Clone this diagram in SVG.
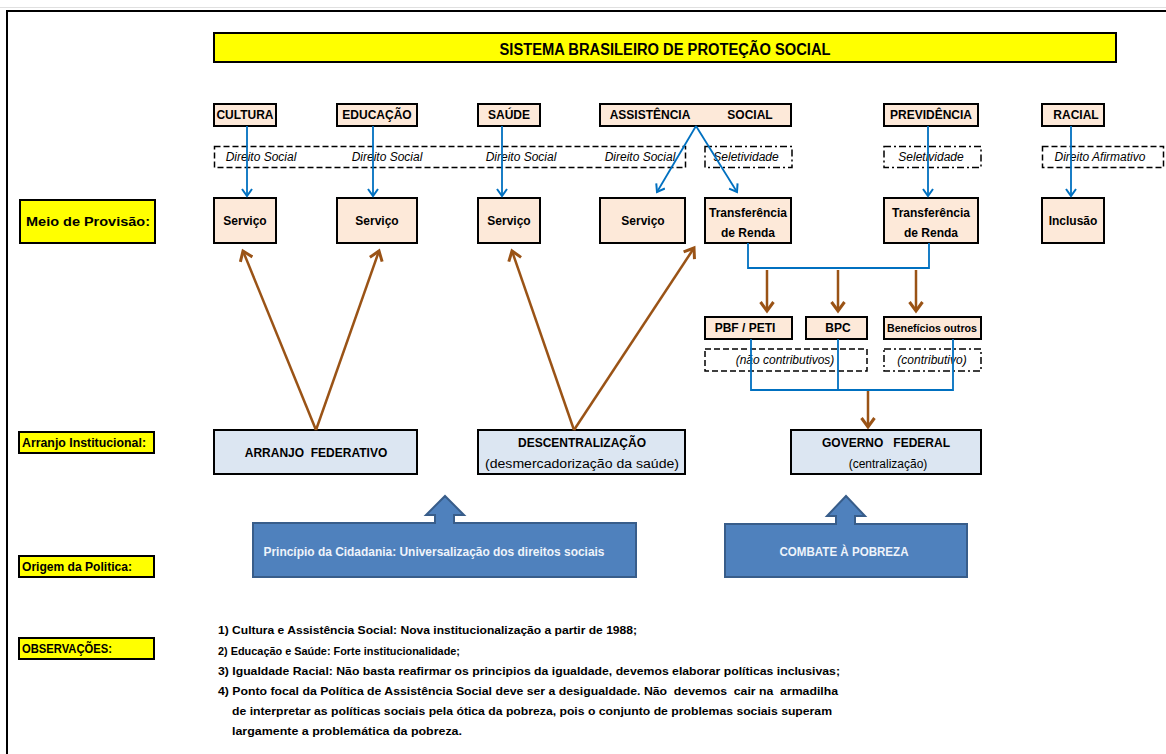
<svg xmlns="http://www.w3.org/2000/svg" width="1166" height="754" viewBox="0 0 1166 754">
<defs>
<style>
.t{font-family:"Liberation Sans",Arial,sans-serif;font-weight:bold;font-size:12px;fill:#000;text-anchor:middle}
.i{font-family:"Liberation Sans",Arial,sans-serif;font-style:italic;font-size:12px;fill:#000;text-anchor:middle}
.l{font-family:"Liberation Sans",Arial,sans-serif;font-weight:bold;font-size:12px;fill:#000}
.n{font-family:"Liberation Sans",Arial,sans-serif;font-weight:bold;font-size:11.5px;fill:#000}
.w{font-family:"Liberation Sans",Arial,sans-serif;font-weight:bold;font-size:12px;fill:#EEF3FA;text-anchor:middle}
.pe{fill:#FDE9D9;stroke:#000;stroke-width:2}
.bl{fill:#DCE6F2;stroke:#000;stroke-width:2}
.ye{fill:#FFFF00;stroke:#000;stroke-width:2}
.da{fill:none;stroke:#000;stroke-width:1.5;stroke-dasharray:6,3}
.dd{fill:none;stroke:#000;stroke-width:1.5;stroke-dasharray:7,3,2,3}
.cb{fill:none;stroke:#0070C0;stroke-width:1.8}
.cr{fill:none;stroke:#9A5316;stroke-width:2.5}
.big{fill:#4F81BD;stroke:#385D8A;stroke-width:2}
</style>
<marker id="ab" markerWidth="12" markerHeight="12" refX="9" refY="6" orient="auto" markerUnits="userSpaceOnUse"><path d="M2,1 L9,6 L2,11" fill="none" stroke="#0070C0" stroke-width="2"/></marker>
<marker id="ar" markerWidth="16" markerHeight="16" refX="12" refY="8" orient="auto" markerUnits="userSpaceOnUse"><path d="M3,1.5 L12,8 L3,14.5" fill="none" stroke="#9A5316" stroke-width="3"/></marker>
</defs>
<rect width="1166" height="754" fill="#fff"/>
<line x1="0" y1="7.5" x2="1166" y2="7.5" stroke="#e0e0e0" stroke-width="1"/>
<rect x="7" y="11" width="1170" height="760" fill="none" stroke="#000" stroke-width="2"/>

<g id="title"><rect class="ye" x="214" y="33" width="902" height="29"/><text class="t" x="665" y="55" style="font-size:16px" textLength="331" lengthAdjust="spacingAndGlyphs">SISTEMA BRASILEIRO DE PROTEÇÃO SOCIAL</text></g>

<g id="lbl-meio"><rect class="ye" x="20" y="200" width="135" height="43"/><text class="l" x="26" y="226" textLength="124" lengthAdjust="spacingAndGlyphs">Meio de Provisão:</text></g>
<g id="lbl-arranjo"><rect class="ye" x="19" y="432" width="135" height="21"/><text class="l" x="22" y="447" textLength="124" lengthAdjust="spacingAndGlyphs">Arranjo Institucional:</text></g>
<g id="lbl-origem"><rect class="ye" x="19" y="556" width="135" height="21"/><text class="l" x="22" y="571" textLength="110" lengthAdjust="spacingAndGlyphs">Origem da Politica:</text></g>
<g id="lbl-obs"><rect class="ye" x="19" y="638" width="135" height="21"/><text class="l" x="22" y="653" textLength="90" lengthAdjust="spacingAndGlyphs">OBSERVAÇÕES:</text></g>

<g id="cultura"><rect class="pe" x="214" y="104" width="62" height="22"/><text class="t" x="245" y="119">CULTURA</text></g>
<g id="educacao"><rect class="pe" x="337" y="104" width="80" height="22"/><text class="t" x="377" y="119">EDUCAÇÃO</text></g>
<g id="saude"><rect class="pe" x="478" y="104" width="62" height="22"/><text class="t" x="509" y="119">SAÚDE</text></g>
<g id="assistencia"><rect class="pe" x="600" y="104" width="191" height="22"/><text class="t" x="650" y="119">ASSISTÊNCIA</text><text class="t" x="750" y="119">SOCIAL</text></g>
<g id="previdencia"><rect class="pe" x="884" y="104" width="94" height="22"/><text class="t" x="931" y="119">PREVIDÊNCIA</text></g>
<g id="racial"><rect class="pe" x="1042" y="104" width="62" height="22"/><text class="t" x="1076" y="119">RACIAL</text></g>

<g id="direitos"><rect class="da" x="214.5" y="146.5" width="471" height="21"/><text class="i" x="261" y="161">Direito Social</text><text class="i" x="387" y="161">Direito Social</text><text class="i" x="521" y="161">Direito Social</text><text class="i" x="640" y="161">Direito Social</text></g>
<g id="sel1"><rect class="dd" x="705" y="146.5" width="87" height="21"/><text class="i" x="746" y="161">Seletividade</text></g>
<g id="sel2"><rect class="dd" x="884" y="146.5" width="97" height="21"/><text class="i" x="931" y="161">Seletividade</text></g>
<g id="afirm"><rect class="da" x="1042.5" y="146.5" width="121" height="21"/><text class="i" x="1100" y="161">Direito Afirmativo</text></g>

<g id="serv1"><rect class="pe" x="214" y="198" width="62" height="45"/><text class="t" x="245" y="225">Serviço</text></g>
<g id="serv2"><rect class="pe" x="337" y="198" width="80" height="45"/><text class="t" x="377" y="225">Serviço</text></g>
<g id="serv3"><rect class="pe" x="478" y="198" width="62" height="45"/><text class="t" x="509" y="225">Serviço</text></g>
<g id="serv4"><rect class="pe" x="600" y="198" width="85" height="45"/><text class="t" x="643" y="225">Serviço</text></g>
<g id="transf1"><rect class="pe" x="705" y="198" width="86" height="45"/><text class="t" x="748" y="217">Transferência</text><text class="t" x="748" y="237">de Renda</text></g>
<g id="transf2"><rect class="pe" x="884" y="198" width="94" height="45"/><text class="t" x="931" y="217">Transferência</text><text class="t" x="931" y="237">de Renda</text></g>
<g id="inclusao"><rect class="pe" x="1042" y="198" width="62" height="45"/><text class="t" x="1073" y="225">Inclusão</text></g>

<g id="pbf"><rect class="pe" x="705" y="317" width="87" height="22"/><text class="t" x="745" y="332">PBF / PETI</text></g>
<g id="bpc"><rect class="pe" x="806" y="317" width="61" height="22"/><text class="t" x="838" y="332">BPC</text></g>
<g id="beneficios"><rect class="pe" x="884" y="317" width="97" height="22"/><text class="t" x="932" y="332" style="font-size:11px" textLength="90" lengthAdjust="spacingAndGlyphs">Benefícios outros</text></g>
<g id="naocontrib"><rect class="da" x="705" y="349" width="162" height="22"/><text class="i" x="785" y="364">(não contributivos)</text></g>
<g id="contrib"><rect class="dd" x="884" y="349" width="97" height="22"/><text class="i" x="932" y="364">(contributivo)</text></g>

<g id="arranjo"><rect class="bl" x="214" y="430" width="203" height="44"/><text class="t" x="316" y="457" xml:space="preserve">ARRANJO  FEDERATIVO</text></g>
<g id="descentral"><rect class="bl" x="478" y="430" width="207" height="44"/><text class="t" x="582" y="447">DESCENTRALIZAÇÃO</text><text class="i" x="582" y="468" style="font-style:normal" textLength="194" lengthAdjust="spacingAndGlyphs">(desmercadorização da saúde)</text></g>
<g id="governo"><rect class="bl" x="791" y="430" width="190" height="44"/><text class="t" x="886" y="447" xml:space="preserve">GOVERNO   FEDERAL</text><text class="i" x="888" y="468" style="font-style:normal">(centralização)</text></g>

<g id="cidadania"><path class="big" d="M253,523 L435,523 L435,515 L426,515 L445,496 L464,515 L454,515 L454,523 L636,523 L636,577 L253,577 Z"/><text class="w" x="434" y="556" textLength="341" lengthAdjust="spacingAndGlyphs">Princípio da Cidadania: Universalização dos direitos sociais</text></g>
<g id="combate"><path class="big" d="M725,524 L836,524 L836,516 L827,516 L846,496 L865,516 L855,516 L855,524 L967,524 L967,577 L725,577 Z"/><text class="w" x="844" y="556" textLength="129" lengthAdjust="spacingAndGlyphs">COMBATE À POBREZA</text></g>

<g id="obs">
<text class="n" x="218" y="634" textLength="419" lengthAdjust="spacingAndGlyphs">1) Cultura e Assistência Social: Nova institucionalização a partir de 1988;</text>
<text class="n" x="218" y="655" textLength="242" lengthAdjust="spacingAndGlyphs">2) Educação e Saúde: Forte institucionalidade;</text>
<text class="n" x="218" y="675" textLength="622" lengthAdjust="spacingAndGlyphs">3) Igualdade Racial: Não basta reafirmar os principios da igualdade, devemos elaborar políticas inclusivas;</text>
<text class="n" x="218" y="695" textLength="620" lengthAdjust="spacingAndGlyphs" xml:space="preserve">4) Ponto focal da Política de Assistência Social deve ser a desigualdade. Não  devemos  cair na  armadilha</text>
<text class="n" x="232" y="715" textLength="600" lengthAdjust="spacingAndGlyphs">de interpretar as políticas sociais pela ótica da pobreza, pois o conjunto de problemas sociais superam</text>
<text class="n" x="232" y="735" textLength="230" lengthAdjust="spacingAndGlyphs">largamente a problemática da pobreza.</text>
</g>

<g id="connectors">
<line class="cb" x1="247" y1="126" x2="247" y2="196" marker-end="url(#ab)"/>
<line class="cb" x1="373" y1="126" x2="373" y2="196" marker-end="url(#ab)"/>
<line class="cb" x1="502" y1="126" x2="502" y2="196" marker-end="url(#ab)"/>
<line class="cb" x1="696" y1="126" x2="657" y2="192" marker-end="url(#ab)"/>
<line class="cb" x1="696" y1="126" x2="737" y2="192" marker-end="url(#ab)"/>
<line class="cb" x1="928" y1="126" x2="928" y2="196" marker-end="url(#ab)"/>
<line class="cb" x1="1071" y1="126" x2="1071" y2="196" marker-end="url(#ab)"/>
<polyline class="cb" points="748,243 748,268 929,268 929,243"/>
<line class="cr" x1="767" y1="270" x2="767" y2="311" marker-end="url(#ar)"/>
<line class="cr" x1="838" y1="270" x2="838" y2="311" marker-end="url(#ar)"/>
<line class="cr" x1="916" y1="270" x2="916" y2="311" marker-end="url(#ar)"/>
<polyline class="cb" points="751,339 751,390 953,390 953,339"/>
<line class="cb" x1="838" y1="339" x2="838" y2="390"/>
<line class="cr" x1="868" y1="391" x2="868" y2="427" marker-end="url(#ar)"/>
<line class="cr" x1="316" y1="430" x2="243" y2="251" marker-end="url(#ar)"/>
<line class="cr" x1="316" y1="430" x2="379" y2="251" marker-end="url(#ar)"/>
<line class="cr" x1="574" y1="430" x2="512" y2="251" marker-end="url(#ar)"/>
<line class="cr" x1="574" y1="430" x2="694" y2="248" marker-end="url(#ar)"/>
</g>
</svg>
